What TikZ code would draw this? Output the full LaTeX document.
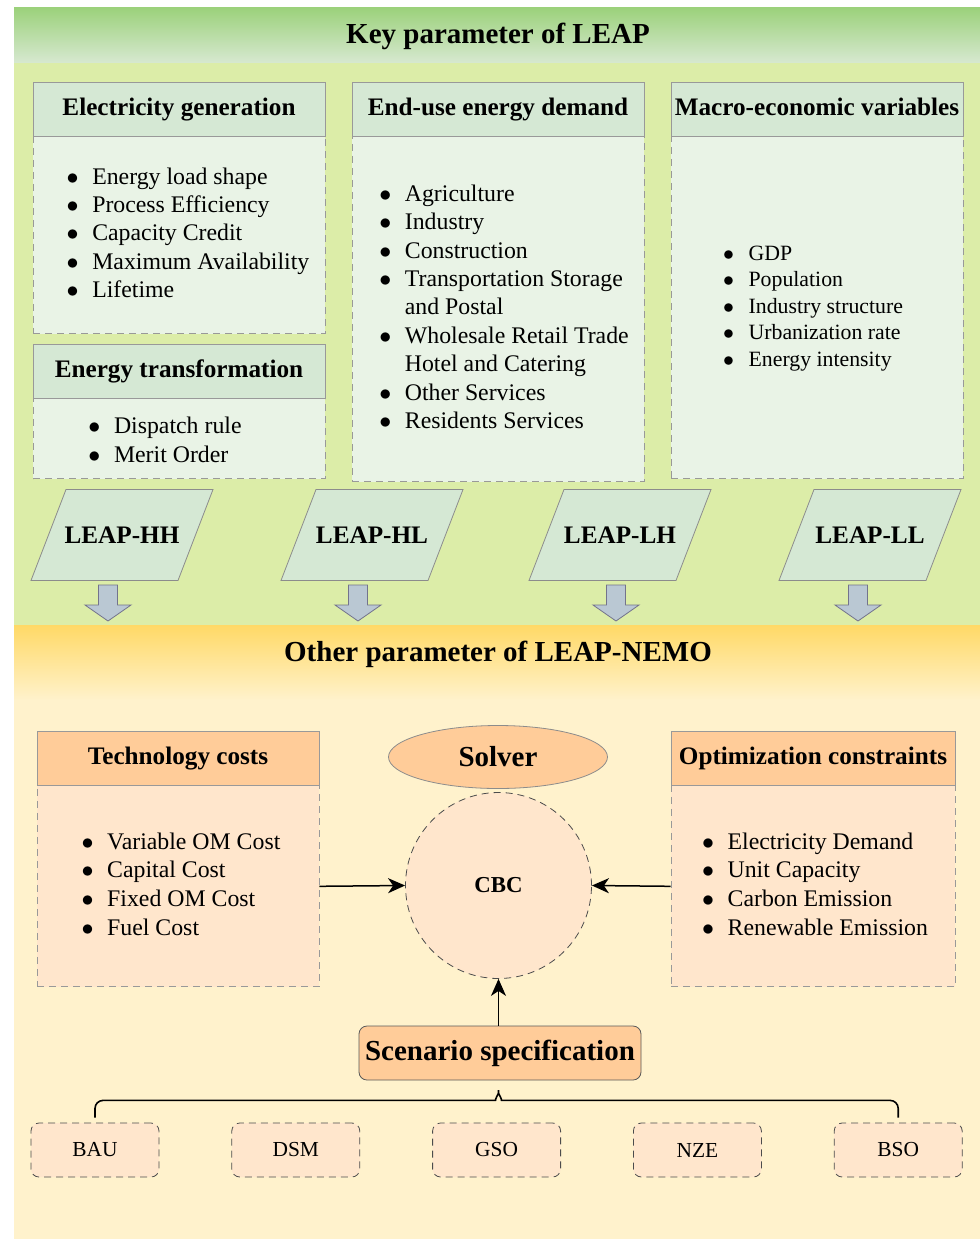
\documentclass[tikz,border=0pt]{standalone}
\usepackage{fontspec}
\setmainfont{Liberation Serif}
\usetikzlibrary{positioning,shapes.geometric,arrows.meta}

\definecolor{bandgreen}{HTML}{9BD17A}
\definecolor{bandlight}{HTML}{D6E8CF}
\definecolor{panelgreen}{HTML}{DCEDA8}
\definecolor{hdrgreen}{HTML}{D5E8D4}
\definecolor{bodygreen}{HTML}{E9F3E6}
\definecolor{bandorange}{HTML}{FFD966}
\definecolor{panelorange}{HTML}{FFF2CC}
\definecolor{hdrorange}{HTML}{FFCC99}
\definecolor{bodyorange}{HTML}{FFE6CC}
\definecolor{arrowblue}{HTML}{BAC8D3}

\newcommand{\bl}{\makebox[12.8pt][l]{$\bullet$}}
\newcommand{\gap}{\hspace*{12.8pt}}
\newcommand{\itemlist}[3]{{\fontsize{#1}{#2}\selectfont\begin{tabular}{@{}l@{}}#3\end{tabular}}}

\tikzset{
  bandtitle/.style={font=\fontsize{14.5}{17}\selectfont\bfseries, inner sep=0pt},
  hdr/.style={draw=gray!80, fill=hdrgreen, minimum width=146pt, minimum height=27pt,
    inner sep=0pt, text height=9pt, text depth=2.6pt, font=\fontsize{12.6}{15}\selectfont\bfseries},
  body/.style={draw=gray!80, dash pattern=on 3.5pt off 2.5pt, fill=bodygreen,
    minimum width=146pt, inner sep=0pt},
  ohdr/.style={hdr, fill=hdrorange},
  obody/.style={body, fill=bodyorange},
  leapshape/.style={draw=gray!90, fill=hdrgreen},
  leap/.style={inner sep=0pt, font=\fontsize{12.6}{15}\selectfont\bfseries},
  downarrow/.pic={\draw[draw=gray!90!blue, fill=arrowblue]
    (-9.5,0) -- (9.5,0) -- (9.5,20) -- (23,20) -- (0,36) -- (-23,20) -- (-9.5,20) -- cycle;},
  scen/.style={draw=black!70, dash pattern=on 3.5pt off 2.5pt, fill=bodyorange,
    rounded corners=4pt, minimum width=64pt, minimum height=27pt, inner sep=0pt,
    font=\fontsize{10.7}{13}\selectfont},
  conn/.style={line width=0.75pt, -{Stealth[length=8.5pt,width=7.5pt,inset=2.5pt]}},
  bracepath/.style={line width=0.8pt, rounded corners=4pt},
}

\begin{document}
\begin{tikzpicture}[x=0.5pt,y=-0.5pt]
\useasboundingbox (0,0) rectangle (980,1239);
% backgrounds
\fill[panelgreen] (14,62) rectangle (980,625);
\shade[top color=bandgreen, bottom color=bandlight] (14,7) rectangle (980,62);
\fill[panelorange] (14,625) rectangle (980,1239);
\shade[top color=bandorange, bottom color=panelorange] (14,625) rectangle (980,700);
\node[bandtitle] (keyT) at (498,36) {Key parameter of LEAP};
\node[bandtitle] (otherT) at (498,654) {Other parameter of LEAP-NEMO};

% key parameters
\node[hdr] (elecH) at (179,109) {Electricity generation};
\node[body, below=0pt of elecH, minimum height=98.5pt] (elecB)
  {\hspace*{9pt}\itemlist{11.9}{14.1}{\bl Energy load shape\\ \bl Process Efficiency\\ \bl Capacity Credit\\
   \bl Maximum Availability\\ \bl Lifetime}};
\node[hdr] (transH) at (179,371) {Energy transformation};
\node[body, below=0pt of transH, minimum height=40pt] (transB)
  {\raisebox{-1.8pt}[\height][\depth]{\itemlist{11.9}{14.4}{\bl Dispatch rule\\ \bl Merit Order}}\hspace*{14pt}};
\node[hdr] (demH) at (498,109) {End-use energy demand};
\node[body, below=0pt of demH, minimum height=172.5pt] (demB)
  {\hspace*{6pt}\itemlist{11.9}{14.2}{\bl Agriculture\\ \bl Industry\\ \bl Construction\\
   \bl Transportation Storage\\ \gap and Postal\\ \bl Wholesale Retail Trade\\
   \gap Hotel and Catering\\ \bl Other Services\\ \bl Residents Services}};
\node[hdr] (macroH) at (817,109) {Macro-economic variables};
\node[body, below=0pt of macroH, minimum height=171pt] (macroB)
  {\itemlist{10.9}{13.25}{\bl GDP\\ \bl Population\\ \bl Industry structure\\
   \bl Urbanization rate\\ \bl Energy intensity}\hspace*{4pt}};

% scenarios of LEAP
\foreach \n/\x/\t in {hh/122/LEAP-HH, hl/372/LEAP-HL, lh/620/LEAP-LH, ll/870/LEAP-LL}{
  \draw[leapshape] (\x,535) ++(-91,45.5) -- ++(147,0) -- ++(35,-91) -- ++(-147,0) -- cycle;
  \node[leap] (\n) at (\x,535) {\t};
}
\foreach \x in {108,358,616,858}
  \pic at (\x,585) {downarrow};

% LEAP-NEMO
\node[ohdr, minimum width=141pt] (techH) at (178,758) {Technology costs};
\node[obody, minimum width=141pt, below=0pt of techH, minimum height=100.5pt] (techB)
  {\hspace*{3pt}\itemlist{11.9}{14.35}{\bl Variable OM Cost\\ \bl Capital Cost\\ \bl Fixed OM Cost\\ \bl Fuel Cost}};
\node[ohdr, minimum width=142pt] (optH) at (813,758) {Optimization constraints};
\node[obody, minimum width=142pt, below=0pt of optH, minimum height=100.5pt] (optB)
  {\hspace*{2pt}\itemlist{11.9}{14.35}{\bl Electricity Demand\\ \bl Unit Capacity\\ \bl Carbon Emission\\ \bl Renewable Emission}};
\node[ellipse, draw=gray!90, fill=hdrorange, minimum width=109.5pt, minimum height=31.5pt,
  inner sep=0pt, font=\fontsize{14.5}{17}\selectfont\bfseries] (solver) at (498,757) {Solver};
\node[circle, draw=black!70, dash pattern=on 3.5pt off 2.5pt, fill=bodyorange, minimum size=93pt,
  inner sep=0pt, font=\fontsize{11.4}{14}\selectfont\bfseries] (cbc) at (498.5,885.5) {CBC};
\node[draw=black!65, fill=hdrorange, rounded corners=4pt, minimum width=141pt, minimum height=27pt,
  inner sep=0pt, font=\fontsize{14.5}{17}\selectfont\bfseries] (spec) at (500,1053) {Scenario specification};
\node[scen] (bau) at (95,1150) {BAU};
\node[scen, right=36pt of bau] (dsm) {DSM};
\node[scen, right=36pt of dsm] (gso) {GSO};
\node[scen, right=36pt of gso] (nze) {NZE};
\node[scen, right=36pt of nze] (bso) {BSO};

\draw[conn] (techB.east) -- (cbc.west);
\draw[conn] (optB.west) -- (cbc.east);
\draw[conn] (spec.north -| cbc.south) -- (cbc.south);
\draw[bracepath] ([yshift=2.5pt]bau.north) |- ([xshift=-5.5pt,yshift=-10pt]spec.south -| cbc.south)
  to[out=0,in=-90] ([yshift=-2.5pt]spec.south -| cbc.south)
  to[out=-90,in=180] ([xshift=5.5pt,yshift=-10pt]spec.south -| cbc.south) -| ([yshift=2.5pt]bso.north);
\end{tikzpicture}
\end{document}
